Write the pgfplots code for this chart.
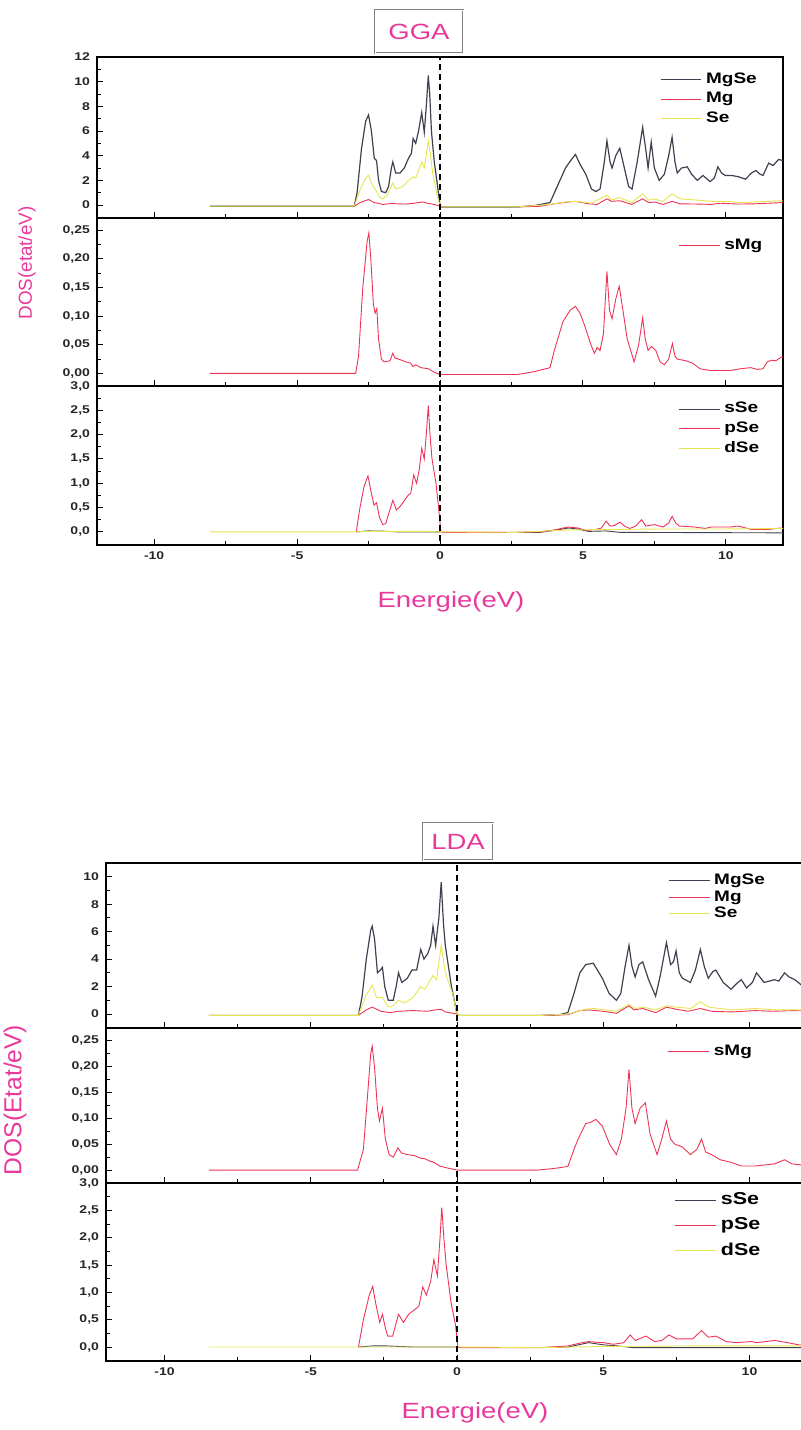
\documentclass[border=0pt]{standalone}
\usepackage{fontspec}
\setmainfont{Liberation Sans}
\newfontfamily\wide[FakeStretch=1.25]{Liberation Sans}
\newfontfamily\wideb[FakeStretch=1.25]{Liberation Sans Bold}
\usepackage{pgfplots}
\pgfplotsset{compat=1.18}
\definecolor{dred}{HTML}{EE3355}
\definecolor{dyel}{HTML}{E6E650}
\definecolor{dtot}{HTML}{404050}
\definecolor{mag}{HTML}{E8399B}

\pgfplotsset{
  dos/.style={
    scale only axis, anchor=north west,
    xmin=-12, xmax=12,
    xtick={-10,-5,0,5,10}, minor xtick={-7.5,-2.5,2.5,7.5},
    xtick pos=bottom, ytick pos=left, tick align=inside,
    major tick length=3pt, minor tick length=1.8pt,
    minor y tick num=1,
    axis line style={line width=0.7pt},
    tick style={line width=0.5pt, black},
    scaled y ticks=false,
    /pgf/number format/assume math mode=true,
    tick label style={font=\wideb\fontsize{5.6}{6.5}\selectfont, text=black!85},
    unbounded coords=jump,
    every axis plot/.append style={line width=0.45pt},
    legend cell align=left,
    legend style={draw=none, fill=none, font=\wideb\fontsize{7.6}{8.6}\selectfont,
      row sep=-1pt, inner sep=0pt},
    legend image code/.code={\draw[##1] (0cm,0cm) -- (0.72cm,0cm);},
  },
  p1/.style={yticklabel style={/pgf/number format/fixed, /pgf/number format/precision=0}},
  p2/.style={ytick={0,0.05,0.10,0.15,0.20,0.25},
    yticklabel style={/pgf/number format/fixed, /pgf/number format/fixed zerofill,
      /pgf/number format/precision=2, /pgf/number format/use comma}},
  p3/.style={ytick={0,0.5,1.0,1.5,2.0,2.5,3.0},
    yticklabel style={/pgf/number format/fixed, /pgf/number format/fixed zerofill,
      /pgf/number format/precision=1, /pgf/number format/use comma}},
  tot/.style={dtot, line width=0.6pt},
}

\begin{document}
\begin{tikzpicture}

% ---------------- GGA ----------------
\begin{axis}[dos, p1, at={(48.5pt,-28.5pt)}, width=343pt, height=80.5pt,
  ymin=-1.05, ymax=12, ytick={0,2,...,12}, xticklabels={},
  legend style={at={(0.82,0.93)}, anchor=north west}]
\addplot[tot] coordinates {(-8.05,-0.1)(-3.0,-0.1)(-2.9,1.0)(-2.75,4.5)(-2.6,6.8)(-2.5,7.3)(-2.4,6.0)(-2.3,3.8)(-2.22,3.6)(-2.15,2.0)(-2.05,1.1)(-1.9,1.0)(-1.8,1.5)(-1.7,3.0)(-1.65,3.5)(-1.55,2.6)(-1.4,2.6)(-1.25,3.0)(-1.12,3.7)(-1.0,4.2)(-0.94,5.4)(-0.85,5.0)(-0.75,6.0)(-0.64,7.5)(-0.55,5.9)(-0.48,8.0)(-0.41,10.5)(-0.36,9.0)(-0.3,6.0)(-0.2,3.5)(-0.1,1.8)(0.0,0.0)(0.05,-0.15)(2.7,-0.15)(3.3,-0.05)(3.85,0.2)(4.1,1.5)(4.39,3.0)(4.6,3.7)(4.74,4.1)(4.9,3.3)(5.1,2.5)(5.3,1.3)(5.45,1.1)(5.6,1.3)(5.75,3.5)(5.84,5.2)(5.95,3.5)(6.02,3.0)(6.15,4.0)(6.29,4.6)(6.45,3.0)(6.6,1.5)(6.72,1.3)(6.9,3.5)(7.09,6.3)(7.2,4.5)(7.28,3.0)(7.39,5.1)(7.5,3.0)(7.67,2.0)(7.85,2.5)(8.0,4.0)(8.12,5.5)(8.22,3.5)(8.3,2.6)(8.45,3.0)(8.65,3.1)(8.8,2.5)(9.0,2.0)(9.2,2.4)(9.45,1.9)(9.6,2.2)(9.72,3.1)(9.85,2.6)(9.98,2.4)(10.2,2.4)(10.43,2.3)(10.69,2.1)(10.9,2.6)(11.05,2.8)(11.2,2.5)(11.3,2.4)(11.5,3.4)(11.65,3.2)(11.85,3.7)(12,3.6)};
\addplot[dred] coordinates {(-3.0,-0.1)(-2.8,0.2)(-2.5,0.45)(-2.3,0.2)(-2.0,0.05)(-1.7,0.12)(-1.2,0.08)(-0.9,0.15)(-0.6,0.25)(-0.45,0.15)(-0.2,0.05)(0.0,-0.1)(1,nan)(2.7,-0.15)(3.5,-0.1)(4.0,0.1)(4.5,0.25)(4.75,0.3)(5.2,0.1)(5.5,0.05)(5.84,0.5)(6.0,0.3)(6.29,0.35)(6.7,0.05)(7.09,0.5)(7.3,0.2)(7.5,0.25)(7.8,0.05)(8.12,0.3)(8.4,0.1)(9.0,0.08)(9.5,0.05)(9.8,0.15)(10.4,0.08)(11.0,0.1)(11.5,0.15)(12,0.2)};
\addplot[dyel] coordinates {(-8.05,-0.1)(-3.0,-0.1)(-2.8,1.2)(-2.6,2.2)(-2.5,2.4)(-2.4,1.8)(-2.25,1.2)(-2.1,0.6)(-2.0,0.5)(-1.85,0.8)(-1.65,1.8)(-1.55,1.3)(-1.3,1.5)(-1.1,2.0)(-0.94,2.3)(-0.85,2.2)(-0.75,2.8)(-0.64,3.5)(-0.55,3.0)(-0.41,5.2)(-0.33,4.0)(-0.25,2.5)(-0.1,0.8)(0.0,-0.05)(0.05,-0.15)(2.7,-0.15)(3.85,0.05)(4.4,0.25)(4.74,0.3)(5.3,0.15)(5.84,0.8)(6.0,0.4)(6.29,0.6)(6.7,0.2)(7.09,0.9)(7.3,0.4)(7.5,0.5)(7.8,0.3)(8.12,0.9)(8.4,0.5)(9.0,0.4)(9.5,0.3)(10.0,0.3)(10.5,0.2)(11.0,0.25)(11.5,0.3)(12,0.35)};
\addplot[black, densely dashed, line width=0.8pt, forget plot] coordinates {(0,-2)(0,13)};
\legend{MgSe,Mg,Se}
\end{axis}

\begin{axis}[dos, p2, at={(48.5pt,-109pt)}, width=343pt, height=84pt,
  ymin=-0.022, ymax=0.271, xticklabels={},
  legend style={at={(0.847,0.9)}, anchor=north west}]
\addplot[dred] coordinates {(-8.05,0.0)(-2.95,0.0)(-2.85,0.03)(-2.7,0.15)(-2.55,0.23)(-2.49,0.245)(-2.42,0.2)(-2.33,0.12)(-2.27,0.105)(-2.21,0.113)(-2.15,0.06)(-2.05,0.025)(-1.95,0.02)(-1.75,0.022)(-1.65,0.035)(-1.58,0.027)(-1.4,0.024)(-1.2,0.02)(-1.03,0.018)(-0.95,0.012)(-0.85,0.015)(-0.67,0.01)(-0.4,0.008)(-0.2,0.002)(0.0,-0.002)(2.7,-0.002)(3.3,0.003)(3.85,0.01)(4.0,0.04)(4.3,0.09)(4.55,0.11)(4.74,0.117)(4.9,0.105)(5.05,0.085)(5.28,0.05)(5.4,0.035)(5.5,0.045)(5.6,0.04)(5.72,0.07)(5.84,0.178)(5.93,0.11)(6.02,0.095)(6.15,0.13)(6.27,0.152)(6.4,0.11)(6.55,0.06)(6.79,0.02)(6.95,0.05)(7.09,0.097)(7.18,0.06)(7.28,0.04)(7.4,0.047)(7.55,0.04)(7.7,0.02)(7.85,0.015)(8.0,0.025)(8.13,0.052)(8.22,0.03)(8.3,0.025)(8.6,0.022)(8.83,0.018)(9.1,0.008)(9.45,0.005)(10.16,0.005)(10.5,0.008)(10.87,0.01)(11.1,0.007)(11.3,0.008)(11.45,0.02)(11.58,0.023)(11.75,0.022)(11.93,0.028)(12,0.029)};
\addplot[black, densely dashed, line width=0.8pt, forget plot] coordinates {(0,-1)(0,1)};
\legend{sMg}
\end{axis}

\begin{axis}[dos, p3, at={(48.5pt,-193pt)}, width=343pt, height=79.5pt,
  ymin=-0.27, ymax=3.0,
  legend style={at={(0.847,0.925)}, anchor=north west}]
\addplot[dtot] coordinates {(-2.93,0)(-2.5,0.02)(-2.0,0.015)(-1.5,0.0)(-0.5,0.0)(0,0.0)(1,nan)(2.7,-0.01)(3.5,-0.01)(4.0,0.03)(4.5,0.08)(4.8,0.06)(5.2,0.01)(5.8,0.02)(6.3,-0.01)(12,-0.02)};
\addplot[dred] coordinates {(-2.93,0.0)(-2.8,0.5)(-2.65,0.95)(-2.52,1.15)(-2.42,0.85)(-2.31,0.55)(-2.22,0.6)(-2.12,0.3)(-2.0,0.15)(-1.9,0.17)(-1.78,0.4)(-1.65,0.65)(-1.53,0.45)(-1.4,0.52)(-1.3,0.6)(-1.12,0.75)(-1.02,0.8)(-0.92,1.17)(-0.82,1.0)(-0.72,1.3)(-0.64,1.72)(-0.55,1.5)(-0.48,2.0)(-0.41,2.6)(-0.35,2.0)(-0.28,1.5)(-0.14,1.0)(-0.05,0.5)(0.03,0.0)(0.1,-0.01)(2.7,-0.01)(3.5,0.0)(4.0,0.04)(4.48,0.1)(4.83,0.08)(5.1,0.03)(5.45,0.05)(5.65,0.08)(5.81,0.22)(5.95,0.12)(6.1,0.13)(6.3,0.2)(6.45,0.12)(6.64,0.07)(6.85,0.12)(7.05,0.25)(7.2,0.12)(7.5,0.15)(7.8,0.1)(8.0,0.18)(8.12,0.32)(8.25,0.18)(8.38,0.12)(8.9,0.1)(9.27,0.07)(9.5,0.1)(10.16,0.1)(10.43,0.12)(10.7,0.08)(10.9,0.05)(11.5,0.05)(11.93,0.08)(12,0.08)};
\addplot[dyel] coordinates {(-8.05,0.0)(-3.0,0.0)(-2.5,0.01)(-0.5,0.01)(0,0)(2.7,-0.01)(4.5,0.04)(6,0.05)(8,0.06)(10,0.06)(12,0.07)};
\addplot[black, densely dashed, line width=0.8pt, forget plot] coordinates {(0,-1)(0,4)};
\legend{sSe,pSe,dSe}
\end{axis}

\node[draw=gray, double=white, double distance=0.5pt, line width=0.3pt,
  minimum width=44pt, minimum height=21.5pt, text=mag,
  font=\wide\fontsize{11}{13}\selectfont] at (209.5pt,-15.75pt) {GGA};
\node[text=mag, font=\wide\fontsize{11}{13}\selectfont] at (225.5pt,-301pt) {Energie(eV)};
\node[text=mag, rotate=90, font=\fontsize{9.4}{11}\selectfont] at (13.5pt,-131.5pt) {DOS(etat/eV)};

% ---------------- LDA ----------------
\begin{axis}[dos, p1, at={(53pt,-431.5pt)}, width=351pt, height=82.5pt,
  ymin=-1.02, ymax=11, ytick={0,2,...,10}, xticklabels={},
  legend style={at={(0.80,0.96)}, anchor=north west, row sep=-2.5pt}]
\addplot[tot] coordinates {(-8.48,-0.1)(-3.37,-0.1)(-3.25,1.2)(-3.1,4.0)(-2.95,6.1)(-2.9,6.4)(-2.82,5.5)(-2.72,3.0)(-2.62,3.2)(-2.55,3.4)(-2.47,2.0)(-2.35,1.0)(-2.18,1.0)(-2.08,2.0)(-2.0,3.0)(-1.92,2.5)(-1.88,2.3)(-1.7,2.6)(-1.54,3.2)(-1.38,3.2)(-1.24,4.7)(-1.13,4.0)(-1.0,4.4)(-0.9,5.0)(-0.82,6.4)(-0.73,5.0)(-0.62,7.0)(-0.54,9.6)(-0.46,6.5)(-0.4,5.0)(-0.19,2.0)(0.0,0.0)(0.05,-0.1)(2.91,-0.1)(3.5,-0.05)(3.79,0.1)(4.0,1.5)(4.2,3.0)(4.4,3.6)(4.66,3.7)(4.8,3.2)(4.97,2.6)(5.2,1.5)(5.45,1.0)(5.6,1.5)(5.75,3.5)(5.88,5.0)(5.98,3.5)(6.09,2.7)(6.22,3.6)(6.35,3.8)(6.55,2.5)(6.79,1.3)(6.95,2.8)(7.16,5.2)(7.3,3.6)(7.4,3.8)(7.49,4.6)(7.6,3.0)(7.71,2.6)(7.98,2.3)(8.15,3.2)(8.32,4.7)(8.45,3.5)(8.59,2.6)(8.75,3.1)(8.85,3.2)(9.1,2.3)(9.37,1.8)(9.55,2.2)(9.72,2.5)(9.9,1.9)(10.1,2.3)(10.24,3.0)(10.5,2.3)(10.86,2.5)(11.0,2.4)(11.2,3.0)(11.35,2.7)(11.55,2.5)(11.78,2.1)(12,2.2)};
\addplot[dred] coordinates {(-3.37,-0.1)(-3.1,0.3)(-2.9,0.5)(-2.6,0.2)(-2.3,0.1)(-2.0,0.2)(-1.5,0.25)(-1.0,0.2)(-0.75,0.3)(-0.55,0.35)(-0.4,0.15)(0,0)(1,nan)(2.91,-0.1)(3.79,-0.05)(4.2,0.25)(4.5,0.3)(5.0,0.2)(5.45,0.05)(5.88,0.6)(6.05,0.3)(6.35,0.4)(6.8,0.1)(7.16,0.5)(7.49,0.35)(7.9,0.2)(8.32,0.4)(8.7,0.2)(9.4,0.15)(10.2,0.25)(10.8,0.2)(11.5,0.25)(12,0.22)};
\addplot[dyel] coordinates {(-8.48,-0.1)(-3.37,-0.1)(-3.1,1.4)(-2.9,2.1)(-2.75,1.2)(-2.55,1.2)(-2.35,0.5)(-2.18,0.6)(-2.0,1.0)(-1.8,0.8)(-1.5,1.2)(-1.24,2.0)(-1.1,1.8)(-0.82,2.8)(-0.7,2.5)(-0.54,5.0)(-0.4,3.0)(-0.15,1.5)(0,0)(0.05,-0.1)(2.91,-0.1)(3.8,0.0)(4.4,0.35)(4.7,0.4)(5.45,0.2)(5.88,0.7)(6.1,0.4)(6.35,0.5)(6.8,0.3)(7.16,0.6)(7.5,0.5)(8.0,0.4)(8.32,0.9)(8.6,0.5)(9.4,0.3)(10.2,0.4)(11,0.3)(12,0.3)};
\addplot[black, densely dashed, line width=0.8pt, forget plot] coordinates {(0,-2)(0,13)};
\legend{MgSe,Mg,Se}
\end{axis}

\begin{axis}[dos, p2, at={(53pt,-514pt)}, width=351pt, height=77.5pt,
  ymin=-0.025, ymax=0.275, xticklabels={},
  legend style={at={(0.80,0.92)}, anchor=north west}]
\addplot[dred] coordinates {(-8.48,0.0)(-3.4,0.0)(-3.2,0.04)(-3.05,0.15)(-2.95,0.225)(-2.9,0.24)(-2.82,0.2)(-2.72,0.12)(-2.65,0.095)(-2.55,0.12)(-2.45,0.06)(-2.32,0.03)(-2.18,0.025)(-2.02,0.043)(-1.9,0.033)(-1.7,0.03)(-1.45,0.028)(-1.25,0.023)(-1.1,0.022)(-0.95,0.018)(-0.79,0.015)(-0.6,0.008)(-0.4,0.005)(0.0,0.0)(2.74,0.0)(3.3,0.003)(3.79,0.007)(4.0,0.04)(4.14,0.06)(4.4,0.09)(4.55,0.092)(4.75,0.098)(4.97,0.085)(5.22,0.05)(5.45,0.03)(5.62,0.06)(5.78,0.12)(5.88,0.195)(5.98,0.12)(6.09,0.09)(6.26,0.12)(6.44,0.13)(6.6,0.07)(6.84,0.03)(7.0,0.06)(7.16,0.095)(7.3,0.06)(7.45,0.05)(7.7,0.045)(7.98,0.03)(8.2,0.04)(8.36,0.06)(8.5,0.035)(8.7,0.03)(9.0,0.02)(9.37,0.015)(9.72,0.008)(10.2,0.008)(10.86,0.012)(11.2,0.02)(11.45,0.012)(11.78,0.01)(12,0.01)};
\addplot[black, densely dashed, line width=0.8pt, forget plot] coordinates {(0,-1)(0,1)};
\legend{sMg}
\end{axis}

\begin{axis}[dos, p3, at={(53pt,-591.5pt)}, width=351pt, height=89pt,
  ymin=-0.256, ymax=3.0,
  legend style={at={(0.81,0.97)}, anchor=north west, row sep=1pt,
    font=\wideb\fontsize{8.6}{9.6}\selectfont}]
\addplot[dtot] coordinates {(-3.37,0)(-2.9,0.02)(-2.4,0.02)(-1.5,0.0)(0,0)(1,nan)(2.91,-0.01)(3.8,0.0)(4.5,0.08)(5.0,0.04)(5.5,0.02)(6.0,-0.01)(12,-0.01)};
\addplot[dred] coordinates {(-3.37,0.0)(-3.2,0.5)(-3.0,0.95)(-2.88,1.11)(-2.78,0.8)(-2.64,0.45)(-2.55,0.6)(-2.45,0.35)(-2.37,0.2)(-2.2,0.2)(-2.0,0.6)(-1.83,0.45)(-1.65,0.6)(-1.41,0.7)(-1.3,0.75)(-1.17,1.1)(-1.05,0.95)(-0.9,1.2)(-0.79,1.6)(-0.67,1.3)(-0.58,2.0)(-0.52,2.55)(-0.45,2.0)(-0.37,1.5)(-0.2,0.8)(-0.05,0.4)(0.03,0.0)(0.1,-0.01)(2.91,-0.01)(3.79,0.02)(4.2,0.07)(4.49,0.1)(4.7,0.09)(5.0,0.08)(5.35,0.05)(5.7,0.08)(5.92,0.22)(6.1,0.12)(6.46,0.2)(6.76,0.1)(7.0,0.12)(7.24,0.22)(7.5,0.15)(8.06,0.15)(8.36,0.3)(8.59,0.18)(8.85,0.2)(9.2,0.1)(9.55,0.08)(10.07,0.1)(10.24,0.08)(10.86,0.12)(11.3,0.08)(11.78,0.03)(12,0.02)};
\addplot[dyel] coordinates {(-8.48,0)(-3.37,0)(0,0)(2.91,-0.01)(5,0.01)(8,0.02)(12,0.02)};
\addplot[black, densely dashed, line width=0.8pt, forget plot] coordinates {(0,-1)(0,4)};
\legend{sSe,pSe,dSe}
\end{axis}

\node[draw=gray, double=white, double distance=0.5pt, line width=0.3pt,
  minimum width=35pt, minimum height=18.5pt, text=mag,
  font=\wide\fontsize{11}{13}\selectfont] at (229pt,-420.75pt) {LDA};
\node[text=mag, font=\wide\fontsize{11}{13}\selectfont] at (237.5pt,-706.5pt) {Energie(eV)};
\node[text=mag, rotate=90, font=\fontsize{12.3}{14}\selectfont] at (7.5pt,-550pt) {DOS(Etat/eV)};

\pgfresetboundingbox
\useasboundingbox (0pt,0pt) rectangle (400.5pt,-715pt);
\end{tikzpicture}
\end{document}
